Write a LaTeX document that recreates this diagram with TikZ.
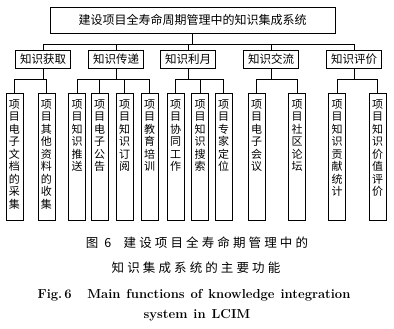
\documentclass[tikz,border=0pt]{standalone}
\usepackage{fontspec}
\newfontfamily\cjk{Noto Sans CJK SC}
\newfontfamily\cjkcap[LetterSpace=25]{Noto Sans CJK SC}
\XeTeXlinebreaklocale "zh"
\XeTeXlinebreakskip=0pt plus 1pt
% one character per line, text kept at the top of the box
\newcommand{\vcol}[1]{\parbox[t][115pt][t]{12pt}{\centering #1}}

\begin{document}
\begin{tikzpicture}[x=1pt,y=-1pt,
  box/.style={draw,line width=0.9pt,inner sep=0pt},
  cat/.style={box,minimum width=55pt,minimum height=18pt,font=\cjk\fontsize{11.5pt}{12pt}\selectfont},
  leaf/.style={box,anchor=north,minimum width=17pt,minimum height=127pt,inner xsep=2.5pt,inner ysep=6pt,font=\cjk\fontsize{11pt}{12.5pt}\selectfont},
  link/.style={line width=0.8pt},
  engcap/.style={font={\bfseries\fontsize{13pt}{15pt}\selectfont\spaceskip=6pt plus 1pt\relax}}]
\useasboundingbox (0,0) rectangle (394,329);
% system:
\node[box,minimum width=285pt,minimum height=26pt,font=\cjk\fontsize{12pt}{14pt}\selectfont] (sys) at (192.5,20) {建设项目全寿命周期管理中的知识集成系统};
% functions:
\node[cat] (acq) at (43,59) {知识获取};
\node[cat] (trans) at (116,59) {知识传递};
\node[cat] (use) at (188,59) {知识利月};
\node[cat] (comm) at (271,59) {知识交流};
\node[cat] (eval) at (354,59) {知识评价};
% sub-functions:
\node[leaf] (l1) at (14.5,93) {\vcol{项目电子文档的采集}};
\node[leaf] (l2) at (46.5,93) {\vcol{项目其他资料的收集}};
\node[leaf] (l3) at (77,93) {\vcol{项目知识推送}};
\node[leaf] (l4) at (99.5,93) {\vcol{项目电子公告}};
\node[leaf] (l5) at (124.5,93) {\vcol{项目知识订阅}};
\node[leaf] (l6) at (149.5,93) {\vcol{项目教育培训}};
\node[leaf] (l7) at (175.5,93) {\vcol{项目协同工作}};
\node[leaf] (l8) at (200,93) {\vcol{项目知识搜索}};
\node[leaf] (l9) at (223.5,93) {\vcol{项目专家定位}};
\node[leaf] (l10) at (256.5,93) {\vcol{项目电子会议}};
\node[leaf] (l11) at (297,93) {\vcol{项目社区论坛}};
\node[leaf] (l12) at (337,93) {\vcol{项目知识贡献统计}};
\node[leaf] (l13) at (377.5,93) {\vcol{项目知识价值评价}};
% upper links:
\foreach \c in {acq,trans,use,comm,eval}
  \draw[link] (sys.south) -- ++(0,11) -| (\c.north);
% lower links:
\foreach \c/\l in {acq/l1,acq/l2,trans/l3,trans/l4,trans/l5,trans/l6,use/l7,use/l8,use/l9,comm/l10,comm/l11,eval/l12,eval/l13}
  \draw[link] (\c.south) -- ++(0,11) -| (\l.north);
% caption:
\node[font=\cjkcap\fontsize{12.5pt}{14pt}\selectfont] (cap1) at (197,243) {图\ 6\hspace{1em}建设项目全寿命期管理中的};
\node[font=\cjkcap\fontsize{12.5pt}{14pt}\selectfont] (cap2) at (196,268) {知识集成系统的主要功能};
\node[engcap] (cap3) at (194,295) {Fig.\,6\hspace{1.2em}Main functions of knowledge integration};
\node[engcap] (cap4) at (197,315) {system in LCIM};
\end{tikzpicture}
\end{document}
